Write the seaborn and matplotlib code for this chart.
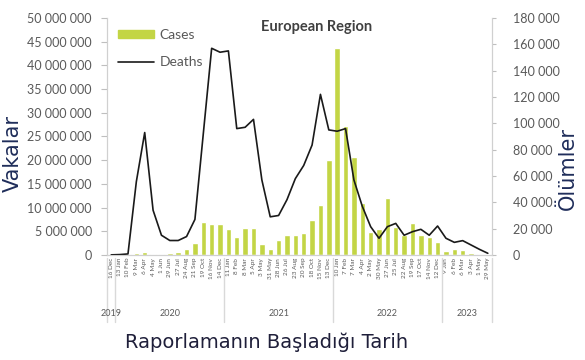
import pandas as pd
import matplotlib.pyplot as plt
import matplotlib.transforms as mtransforms
from matplotlib.lines import Line2D
from matplotlib.patches import Patch
import seaborn as sns

# Dönem başlangıç tarihleri (4 haftalık)
dates = ["16 Dec", "13 Jan", "10 Feb", "9 Mar", "6 Apr", "4 May", "1 Jun", "29 Jun",
         "27 Jul", "24 Aug", "21 Sep", "19 Oct", "16 Nov", "14 Dec", "11 Jan", "8 Feb",
         "8 Mar", "5 Apr", "3 May", "31 May", "28 Jun", "26 Jul", "23 Aug", "20 Sep",
         "18 Oct", "15 Nov", "13 Dec", "10 Jan", "7 Feb", "7 Mar", "4 Apr", "2 May",
         "30 May", "27 Jun", "25 Jul", "22 Aug", "19 Sep", "17 Oct", "14 Nov", "12 Dec",
         "9 Jan", "6 Feb", "6 Mar", "3 Apr", "1 May", "29 May"]
years = [2019] + [2020] * 13 + [2021] * 13 + [2022] * 13 + [2023] * 6

# Vakalar (milyon) ve ölümler (bin)
cases_m = [0.02, 0.05, 0.15, 0.45, 0.6, 0.3, 0.3, 0.35, 0.7, 1.2, 2.6, 7.0, 6.5, 6.6,
           5.4, 3.9, 5.7, 5.6, 2.3, 1.2, 3.2, 4.2, 4.3, 4.6, 7.4, 10.5, 20.0, 43.6,
           27.2, 20.7, 10.9, 4.8, 5.5, 12.0, 6.0, 4.2, 6.7, 4.2, 3.7, 2.8, 0.9, 1.3,
           1.1, 0.5, 0.15, 0.05]
deaths_k = [0.1, 0.3, 0.8, 55.7, 93, 34, 15, 11, 11, 14, 27, 92, 157, 154, 155, 96,
            97, 103, 57, 29, 30, 42, 58, 68, 83.5, 122, 95, 94, 96, 57, 37, 21.5, 12.7,
            21.5, 24, 15, 17.7, 19.5, 15, 22, 12.7, 9.6, 10.9, 7.6, 4.3, 1.3]

df = pd.DataFrame({"date": dates, "year": years,
                   "cases": [c * 1e6 for c in cases_m],
                   "deaths": [d * 1e3 for d in deaths_k]})
df["pos"] = range(len(df))

sns.set_style("white")
plt.rcParams["font.family"] = ["Lato", "DejaVu Sans"]

gray = "#595959"
green = "#c3d545"

fig = plt.figure(figsize=(5.85, 3.6), dpi=100)
ax = fig.add_axes([0.183, 0.2917, 0.658, 0.6583])
ax2 = ax.twinx()

sns.barplot(data=df, x="pos", y="cases", color=green, width=0.65, ax=ax,
            saturation=1)
sns.lineplot(data=df, x="pos", y="deaths", color="#1a1a1a", linewidth=1.2, ax=ax2)

ax.set_xlim(-0.5, len(df) - 0.5)
ax.set_ylim(0, 50e6)
ax2.set_ylim(0, 180e3)

ax.set_yticks(range(0, 50_000_001, 5_000_000))
ax.set_yticklabels([f"{v:,.0f}".replace(",", " ") for v in ax.get_yticks()],
                   fontsize=9, color=gray)
ax2.set_yticks(range(0, 180_001, 20_000))
ax2.set_yticklabels([f"{v:,.0f}".replace(",", " ") for v in ax2.get_yticks()],
                    fontsize=9, color=gray)

ax.set_xticks(df["pos"])
ax.set_xticklabels(df["date"], rotation=90, fontsize=4.6, color=gray)
ax.tick_params(axis="x", length=0, pad=2)
ax.tick_params(axis="y", length=4, color="#bfbfbf", width=0.8, pad=7, left=True)
ax2.tick_params(axis="y", length=3, color="#bfbfbf", width=0.8, pad=12, right=True)

ax.set_xlabel("")
ax.set_ylabel("")
ax2.set_ylabel("")

for a in (ax, ax2):
    a.spines["top"].set_visible(False)
    for s in ("left", "right", "bottom"):
        a.spines[s].set_color("#d0d0d0")
        a.spines[s].set_linewidth(0.8)

# Yıl ayırıcıları ve etiketleri
trans = mtransforms.blended_transform_factory(ax.transData, ax.transAxes)
bounds = [-0.5] + [i - 0.5 for i in range(1, len(df)) if years[i] != years[i - 1]] + [len(df) - 0.5]
for b in bounds:
    ax.add_line(Line2D([b, b], [-0.013, -0.283], transform=trans, color="#d9d9d9",
                       linewidth=1, clip_on=False))
for y0, y1, yr in zip(bounds[:-1], bounds[1:], sorted(set(years))):
    ax.text((y0 + y1) / 2, -0.245, str(yr), transform=trans, ha="center", va="center",
            fontsize=6.5, color=gray)

ax.text(0.545, 0.99, "European Region", transform=ax.transAxes, ha="center",
        va="top", fontsize=10.5, fontweight="bold", color="#404040")

handles = [Patch(color=green), Line2D([], [], color="#1a1a1a", linewidth=1.2)]
ax.legend(handles, ["Cases", "Deaths"], loc="upper left", frameon=False,
          fontsize=10, labelcolor=gray, handlelength=2.6, handleheight=0.5,
          handletextpad=0.4, bbox_to_anchor=(0.0, 1.0), labelspacing=1.1,
          borderaxespad=0.4)

fig.text(0.022, 0.575, "Vakalar", rotation=90, ha="center", va="center",
         fontsize=15, color="#1f2d5a", family=["DejaVu Sans"])
fig.text(0.971, 0.533, "Ölümler", rotation=90, ha="center", va="center",
         fontsize=15, color="#1f2d5a", family=["DejaVu Sans"])
fig.text(0.456, 0.05, "Raporlamanın Başladığı Tarih", ha="center", va="center",
         fontsize=14, color="#1f1f3a", family=["DejaVu Sans"])

fig.savefig("out.png", dpi=100)
